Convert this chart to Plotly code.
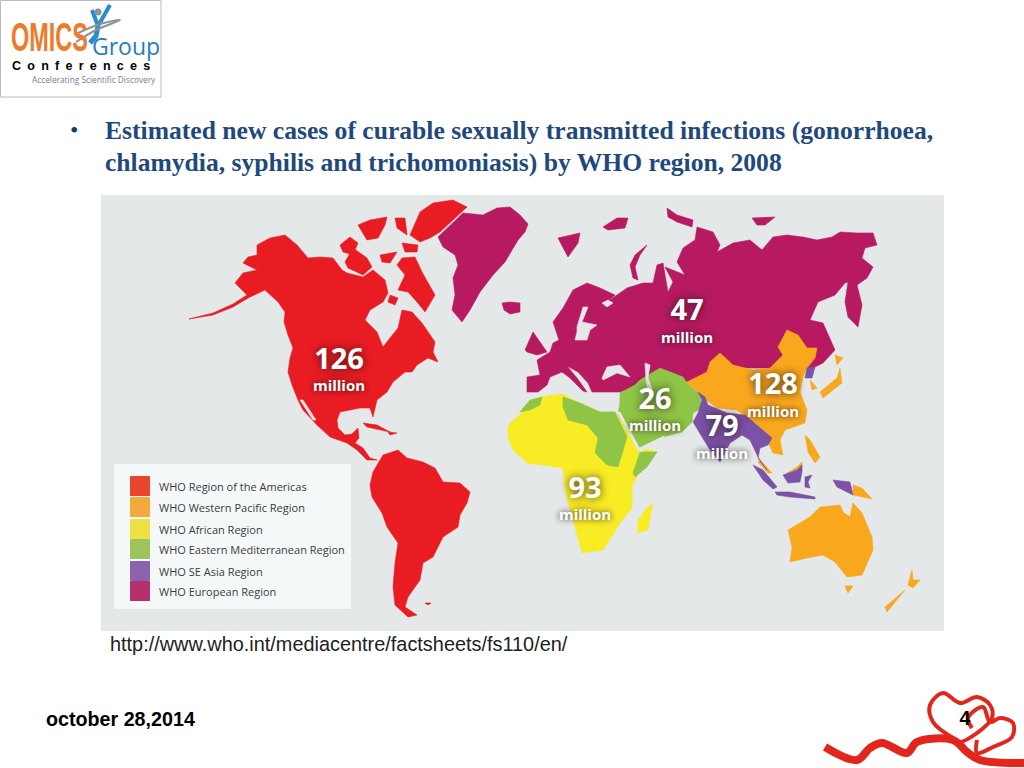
import plotly.graph_objects as go

# slide texts
title_lines = ["Estimated new cases of curable sexually transmitted infections (gonorrhoea,",
               "chlamydia, syphilis and trichomoniasis) by WHO region, 2008"]
source_url = "http://www.who.int/mediacentre/factsheets/fs110/en/"
date_text = "october 28,2014"
page_no = "4"

# legend and values
regions = ["WHO Region of the Americas", "WHO Western Pacific Region", "WHO African Region",
           "WHO Eastern Mediterranean Region", "WHO SE Asia Region", "WHO European Region"]
legend_cols = ["#e8452c", "#f3aa3c", "#ede144", "#9dc45b", "#8b63ad", "#b5306a"]
legend_y = [486, 507, 529, 549, 571, 591]
cases = [126, 128, 93, 26, 79, 47]
case_x = [339, 773, 585, 655, 722, 687]
case_y = [362, 387, 491, 402, 429, 313]
unit_y = [386, 412, 515, 426, 454, 338]

map_cols = {"amr": "#e91c24", "wpr": "#f9a81e", "afr": "#f8ec25", "emr": "#8fc546", "sear": "#7b52a5", "eur": "#b81a62"}

# traced outlines, page pixels
europe_main = [(527,392),(527,377),(540,375),(537,360),(550,352),(553,343),(559,340),(553,322),(563,308),(573,290),
               (587,283),(600,288),(615,295),(607,302),(627,288),(643,283),(653,283),(657,265),(663,263),(668,292),
               (673,282),(665,267),(685,275),(677,262),(683,248),(695,240),(697,227),(713,232),(720,245),(717,252),
               (733,243),(750,240),(762,250),(773,237),(787,235),(803,237),(817,240),(832,237),(840,232),(857,233),
               (873,233),(877,245),(865,248),(862,258),(873,267),(867,278),(857,285),(862,305),(858,327),(848,317),
               (845,302),(848,282),(845,283),(835,295),(818,302),(810,320),(823,323),(835,350),(823,363),(813,368),
               (720,368),(687,382),(653,375),(640,382),(635,387),(620,392),(600,392),(592,392),(588,383),(578,372),
               (567,366),(577,378),(587,392),(583,391),(570,378),(562,372),(550,377),(547,385),(538,392)]
europe_isles = [
    [(525,350),(533,332),(540,342),(547,352),(537,355),(527,352)],
    [(558,238),(580,233),(578,243),(568,257)],
    [(603,227),(617,218),(628,218),(625,228),(608,230)],
    [(647,245),(635,255),(630,265),(633,278),(638,280),(635,267),(640,255)],
    [(667,208),(677,215),(693,220),(692,227),(677,222),(668,217)],
    [(752,218),(775,217),(765,225),(757,225)],
    [(502,303),(510,302),(520,303),(520,312),(510,314),(504,310)],
]
greenland = [(438,237),(453,223),(463,213),(483,215),(497,208),(510,207),(520,215),(528,224),(525,232),(518,240),
             (512,250),(505,262),(493,275),(480,292),(470,310),(462,322),(452,310),(455,295),(453,278),(458,265),
             (455,255),(443,247)]
north_america = [(235,283),(243,273),(257,270),(243,263),(248,257),(257,255),(257,245),(270,238),(285,235),(297,245),
                 (308,258),(320,257),(333,258),(342,270),(347,273),(363,277),(373,270),(385,280),(388,293),(383,302),
                 (370,310),(365,320),(377,332),(383,347),(390,338),(398,328),(402,310),(412,312),(422,323),(435,342),
                 (433,352),(438,362),(428,358),(417,365),(412,372),(405,372),(393,382),(387,392),(377,400),(373,417),
                 (370,408),(360,408),(340,412),(337,420),(338,428),(345,435),(352,434),(358,428),(359,438),(355,443),
                 (363,448),(370,458),(377,460),(367,460),(357,450),(347,443),(330,437),(317,425),(303,410),(298,400),
                 (292,385),(288,372),(290,358),(293,348),(288,335),(284,322),(285,312),(278,302),(265,290),(250,297),
                 (233,307),(213,315),(189,319),(213,313),(233,304),(247,295),(240,288)]
south_america = [(370,485),(373,472),(383,455),(398,450),(407,458),(423,462),(435,468),(443,482),(460,483),(470,492),
                 (467,503),(460,515),(458,527),(443,537),(433,557),(423,563),(420,580),(408,597),(405,607),(417,615),
                 (408,617),(395,605),(393,587),(395,563),(398,543),(387,527),(382,513),(372,497)]
americas_isles = [
    [(410,235),(420,212),(433,203),(453,200),(467,207),(453,220),(440,232),(430,238),(420,242)],
    [(395,218),(405,218),(407,235),(397,228)],
    [(358,225),(370,220),(387,217),(385,225),(378,238),(367,240)],
    [(402,243),(418,245),(417,252),(405,252)],
    [(340,245),(350,237),(358,243),(353,255),(343,252)],
    [(345,262),(353,248),(367,258),(372,267),(363,275),(348,268)],
    [(380,255),(397,252),(390,263),(382,262)],
    [(397,265),(402,258),(415,257),(422,272),(435,295),(425,312),(417,302),(408,292),(398,290),(405,275)],
    [(390,295),(398,298),(395,305),(388,302)],
    [(363,423),(377,425),(390,432),(380,430),(367,427)],
    [(388,432),(397,433),(390,435)],
    [(425,603),(431,603),(428,605)],
]
africa = [(508,428),(510,423),(523,412),(540,397),(562,394),(580,403),(600,412),(615,412),(638,447),(657,452),
          (640,470),(632,487),(632,508),(620,523),(603,550),(582,553),(575,527),(565,490),(563,468),(543,465),
          (527,463),(513,450),(508,437)]
madagascar = [(653,503),(648,530),(638,533),(638,520),(647,508)]
morocco = [(520,412),(530,400),(542,397),(540,405),(530,410)]
north_east_africa = [(563,397),(580,403),(600,412),(615,412),(627,437),(618,467),(607,465),(595,453),(598,438),
                     (587,425),(568,420),(563,407)]
somalia = [(640,452),(657,452),(647,467),(635,477),(633,473)]
middle_east = [(620,393),(635,385),(640,380),(660,368),(683,377),(687,383),(700,395),(702,408),(693,413),(692,422),
               (682,432),(663,437),(655,443),(640,450),(633,440),(618,415),(620,402)]
china = [(687,382),(707,372),(710,362),(720,353),(733,365),(753,370),(770,368),(783,355),(778,347),(787,330),
         (798,335),(807,348),(817,348),(815,358),(807,368),(803,377),(800,392),(807,410),(805,423),(785,430),
         (780,440),(783,455),(773,453),(767,440),(757,425),(737,410),(717,408),(702,397)]
wpr_isles = [
    [(810,380),(817,388),(812,390)],
    [(835,355),(843,358),(837,365)],
    [(840,368),(842,383),(823,398),(820,392),(837,378)],
    [(787,473),(797,467),(802,462),(802,467),(797,470)],
    [(853,485),(862,488),(872,499),(862,497),(853,495)],
    [(805,435),(810,440),(820,457),(815,463),(808,452)],
    [(760,460),(772,473),(768,473),(758,462)],
    [(788,530),(810,517),(820,507),(840,505),(843,512),(850,517),(853,503),(862,513),(872,537),(873,550),(862,575),
     (847,577),(835,562),(823,555),(807,558),(790,562),(792,547)],
    [(845,586),(853,586),(848,593)],
    [(912,570),(913,580),(920,580),(913,588),(908,585)],
    [(905,590),(887,612),(885,607),(902,592)],
]
india_burma = [(698,392),(705,397),(708,405),(727,413),(745,415),(757,425),(772,438),(768,445),(760,448),(758,458),
               (767,470),(758,457),(750,440),(742,435),(730,443),(720,462),(710,450),(703,438),(693,422),(698,413),(702,400)]
sear_isles = [
    [(807,368),(815,367),(812,378),(805,378)],
    [(753,465),(763,470),(777,487),(773,489),(763,480)],
    [(775,492),(790,492),(815,497),(815,499),(790,497),(777,495)],
    [(783,475),(797,470),(802,465),(802,472),(800,482),(788,483)],
    [(805,477),(812,475),(808,482),(810,488),(805,487)],
    [(833,480),(850,482),(853,495),(837,487)],
]
seas = [
    [(577,327),(583,307),(588,307),(582,322),(597,325),(590,330),(587,340),(575,340),(577,332)],
    [(602,378),(607,367),(620,365),(630,377),(617,373),(603,380)],
    [(645,363),(650,365),(648,378),(652,388),(648,392),(646,380)],
    [(617,412),(620,412),(640,449),(637,449)],
    [(637,449),(664,436),(665,438),(640,452)],
    [(300,400),(303,400),(316,420),(313,420)],
    [(602,303),(608,300),(613,303),(607,307)],
]

# ribbon and logo strokes
ribbon_x = [825,857,870,882,907,917,953,967,980,1024]
ribbon_y = [747,760,748,743,753,742,740,752,760,763]
heart_a_x = [953,933,930,943,960,977,990,992,977,960,953]
heart_a_y = [738,722,705,693,703,697,705,718,733,742,740]
heart_b_x = [972,968,983,990,1000,1013,1012,993,977,977]
heart_b_y = [728,718,707,722,718,723,737,747,753,740]
arm_x = [92,98,110]
arm_y = [10,26,5]
body_x = [98,96,90]
body_y = [26,36,43]
swoosh_x = [76,100,120,96,76]
swoosh_y = [34,24,20,30,42]

fig = go.Figure()


def polys(shapes, col, name):
    xs, ys = [], []
    for shp in shapes:
        xs += [p[0] for p in shp] + [shp[0][0], None]
        ys += [p[1] for p in shp] + [shp[0][1], None]
    fig.add_trace(go.Scatter(x=xs, y=ys, mode='lines', fill='toself', fillcolor=col, name=name,
                             line=dict(color=col, width=0.6), hoverinfo='skip', showlegend=False))


def label(x, y, txt, size, col, family="Liberation Sans", pos='middle right', shadow=None):
    font = dict(size=size, color=col, family=family)
    if shadow:
        font['shadow'] = shadow
    fig.add_trace(go.Scatter(x=[x], y=[y], text=[txt], mode='text', textposition=pos, textfont=font,
                             hoverinfo='skip', showlegend=False, cliponaxis=False))


# map panel
fig.add_shape(type='rect', x0=101, x1=944, y0=195, y1=631, fillcolor="#e4e8e9", line_width=0, layer='below')
fig.add_shape(type='rect', x0=114, x1=351, y0=464, y1=609, fillcolor="#f5f8f8", line_width=0, layer='below')
fig.add_shape(type='rect', x0=0.5, x1=161, y0=0.5, y1=97, fillcolor="white", line=dict(color="#bbbbbb", width=1), layer='below')

polys([europe_main, greenland] + europe_isles, map_cols["eur"], "eur")
polys([north_america, south_america] + americas_isles, map_cols["amr"], "amr")
polys([africa, madagascar], map_cols["afr"], "afr")
polys([morocco, north_east_africa, somalia, middle_east], map_cols["emr"], "emr")
polys([china] + wpr_isles, map_cols["wpr"], "wpr")
polys([india_burma] + sear_isles, map_cols["sear"], "sear")
polys(seas, "#e4e8e9", "sea")

# legend
fig.add_trace(go.Scatter(x=[140] * len(legend_y), y=legend_y, mode='markers', hoverinfo='skip', showlegend=False,
                         marker=dict(symbol='square', size=19, color=legend_cols,
                                     line=dict(color=legend_cols, width=1))))
for name, ly in zip(regions, legend_y):
    label(159, ly + 2, name, 11, "#3c3c3c", family="Open Sans")

# case labels
for val, cx, cy, uy in zip(cases, case_x, case_y, unit_y):
    label(cx, cy, "<b>%d</b>" % val, 29, "white", family="Open Sans", pos='middle center', shadow="0 0 8px rgba(40,20,20,0.9)")
    label(cx, uy + 1, "<b>million</b>", 15, "white", family="Open Sans", pos='middle center', shadow="0 0 6px rgba(40,20,20,0.9)")

# slide text
label(70, 132, "•", 24, "#1a3a66", family="Liberation Serif")
label(105, 133, "<b>%s</b>" % title_lines[0], 25.6, "#1f497d", family="Liberation Serif")
label(105, 165, "<b>%s</b>" % title_lines[1], 25.6, "#1f497d", family="Liberation Serif")
label(110, 646, source_url, 19.9, "#222222")
label(46, 721, "<b>%s</b>" % date_text, 19.7, "black")

# ribbon
fig.add_trace(go.Scatter(x=ribbon_x, y=ribbon_y, mode='lines', line=dict(color="#e3261c", width=8, shape='spline'),
                         hoverinfo='skip', showlegend=False))
for hx, hy in [(heart_a_x, heart_a_y), (heart_b_x, heart_b_y)]:
    fig.add_trace(go.Scatter(x=hx, y=hy, mode='lines', line=dict(color="#e3261c", width=4, shape='spline'),
                             hoverinfo='skip', showlegend=False))
label(965, 720, "<b>%s</b>" % page_no, 19.5, "black", pos='middle center')

# logo
fig.add_trace(go.Scatter(x=arm_x, y=arm_y, mode='lines', line=dict(color="#2a8ccf", width=4), hoverinfo='skip', showlegend=False))
fig.add_trace(go.Scatter(x=body_x, y=body_y, mode='lines', line=dict(color="#2a8ccf", width=5), hoverinfo='skip', showlegend=False))
fig.add_trace(go.Scatter(x=swoosh_x, y=swoosh_y, mode='lines', line=dict(color="#8d9499", width=2, shape='spline'), hoverinfo='skip', showlegend=False))
fig.add_trace(go.Scatter(x=[98], y=[12], mode='markers', marker=dict(size=7, color="#8d9499"), hoverinfo='skip', showlegend=False))
label(11, 38, "<b>OMICS</b>", 23.5, "#ee7b2b")
label(92, 49, "Group", 23, "#1f7fc0", family="Open Sans")
label(12, 67, "<b>C\u2002o\u2002n\u2002f\u2002e\u2002r\u2002e\u2002n\u2002c\u2002e\u2002s</b>", 12.5, "black")
label(32, 81, "Accelerating Scientific Discovery", 8.3, "#6d8296", family="Open Sans")

fig.update_xaxes(range=[0, 1024], visible=False, fixedrange=True)
fig.update_yaxes(range=[768, 0], visible=False, fixedrange=True)
fig.update_layout(width=1024, height=768, margin=dict(l=0, r=0, t=0, b=0), plot_bgcolor="white",
                  paper_bgcolor="white", showlegend=False)

# OMICS in the logo is a tall condensed face, none installed, so stretch the text
stretch_js = """
document.body.style.margin='0';document.body.style.overflow='hidden';
document.querySelectorAll('.textpoint text').forEach(function(t){
  if(t.textContent==='OMICS'){
    var y=parseFloat(t.getAttribute('y'));
    t.setAttribute('transform','translate(0,'+(y*-0.7+7)+') scale(1,1.7)');
  }
});
"""
fig.write_html("out.html", config=dict(displayModeBar=False), post_script=stretch_js)
